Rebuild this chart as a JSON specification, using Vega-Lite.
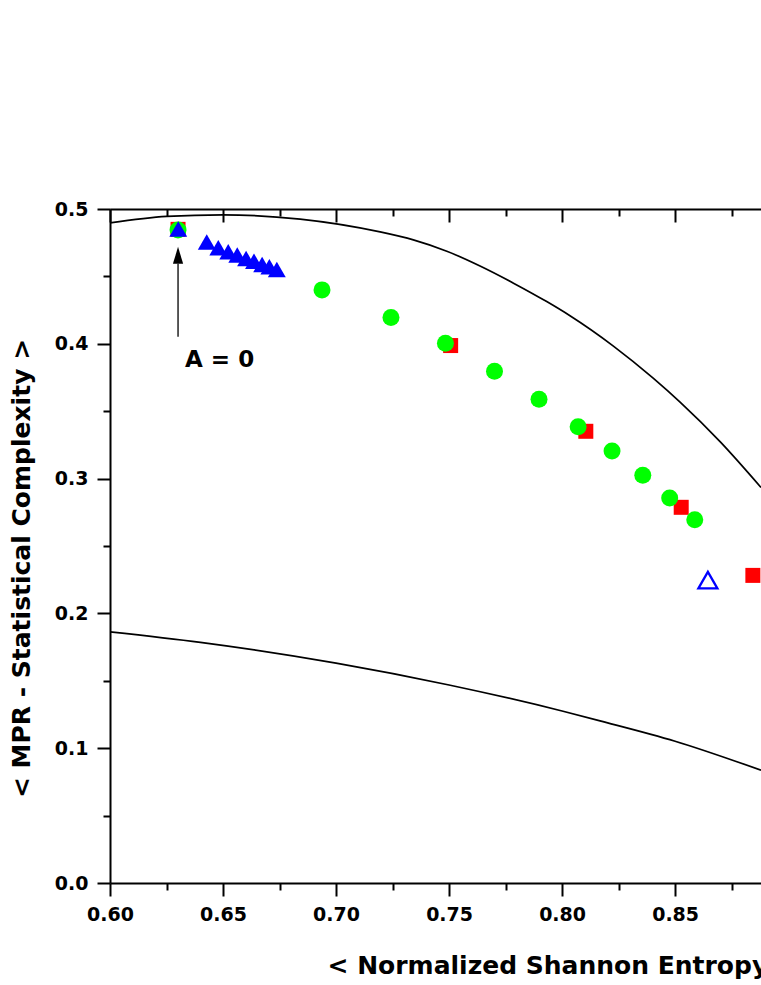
{
  "$schema": "https://vega.github.io/schema/vega-lite/v6.json",
  "autosize": {"type": "none"},
  "padding": {"left": 110, "top": 209, "right": 0, "bottom": 102},
  "width": 651,
  "height": 674,
  "background": "white",
  "config": {
    "view": {"stroke": null},
    "font": "DejaVu Sans",
    "axis": {
      "domainColor": "black", "domainWidth": 2, "tickColor": "black", "tickWidth": 2,
      "grid": false, "labelFont": "DejaVu Sans", "labelFontWeight": "bold", "labelFontSize": 19,
      "labelColor": "black", "titleFont": "DejaVu Sans", "titleFontWeight": "bold",
      "titleFontSize": 25, "titleColor": "black"
    }
  },
  "datasets": {
    "curves": [
      {"curve": "max", "x": 0.6, "y": 0.4897},
      {"curve": "max", "x": 0.6251, "y": 0.4945},
      {"curve": "max", "x": 0.65, "y": 0.4957},
      {"curve": "max", "x": 0.6841, "y": 0.4925},
      {"curve": "max", "x": 0.7195, "y": 0.4830},
      {"curve": "max", "x": 0.7342, "y": 0.4771},
      {"curve": "max", "x": 0.749, "y": 0.4687},
      {"curve": "max", "x": 0.7637, "y": 0.4577},
      {"curve": "max", "x": 0.7785, "y": 0.4450},
      {"curve": "max", "x": 0.7932, "y": 0.4313},
      {"curve": "max", "x": 0.8035, "y": 0.4208},
      {"curve": "max", "x": 0.8227, "y": 0.3983},
      {"curve": "max", "x": 0.8403, "y": 0.3745},
      {"curve": "max", "x": 0.8522, "y": 0.3567},
      {"curve": "max", "x": 0.8700, "y": 0.3272},
      {"curve": "max", "x": 0.888, "y": 0.2934},
      {"curve": "min", "x": 0.6, "y": 0.1863},
      {"curve": "min", "x": 0.64, "y": 0.1785},
      {"curve": "min", "x": 0.7, "y": 0.1631},
      {"curve": "min", "x": 0.75, "y": 0.1469},
      {"curve": "min", "x": 0.8, "y": 0.1276},
      {"curve": "min", "x": 0.8168, "y": 0.1203},
      {"curve": "min", "x": 0.85, "y": 0.1052},
      {"curve": "min", "x": 0.888, "y": 0.0837}
    ],
    "points": [
      {"series": "square", "x": 0.6301, "y": 0.4849},
      {"series": "square", "x": 0.7507, "y": 0.3987},
      {"series": "square", "x": 0.8105, "y": 0.3351},
      {"series": "square", "x": 0.8527, "y": 0.2787},
      {"series": "square", "x": 0.8844, "y": 0.2282},
      {"series": "circle", "x": 0.6301, "y": 0.4845},
      {"series": "circle", "x": 0.6938, "y": 0.4400},
      {"series": "circle", "x": 0.7243, "y": 0.4195},
      {"series": "circle", "x": 0.7484, "y": 0.4004},
      {"series": "circle", "x": 0.7701, "y": 0.3797},
      {"series": "circle", "x": 0.7898, "y": 0.3589},
      {"series": "circle", "x": 0.8071, "y": 0.3385},
      {"series": "circle", "x": 0.8221, "y": 0.3205},
      {"series": "circle", "x": 0.8357, "y": 0.3025},
      {"series": "circle", "x": 0.8476, "y": 0.2856},
      {"series": "circle", "x": 0.8587, "y": 0.2695},
      {"series": "tri", "x": 0.6302, "y": 0.4851},
      {"series": "tri", "x": 0.6428, "y": 0.4756},
      {"series": "tri", "x": 0.6479, "y": 0.4712},
      {"series": "tri", "x": 0.6523, "y": 0.4682},
      {"series": "tri", "x": 0.6563, "y": 0.4658},
      {"series": "tri", "x": 0.6602, "y": 0.4633},
      {"series": "tri", "x": 0.6637, "y": 0.4613},
      {"series": "tri", "x": 0.6673, "y": 0.4588},
      {"series": "tri", "x": 0.6705, "y": 0.4571},
      {"series": "tri", "x": 0.6738, "y": 0.4551},
      {"series": "open", "x": 0.8645, "y": 0.2247}
    ],
    "annot": [
      {"label": "A = 0", "x": 0.6301, "xt": 0.6332, "yt": 0.3831, "ylo": 0.4052, "yhi": 0.4593, "yhead": 0.4656}
    ]
  },
  "layer": [
    {
      "data": {"name": "curves"},
      "mark": {"type": "line", "color": "black", "strokeWidth": 1.7, "clip": true, "interpolate": "monotone"},
      "encoding": {
        "x": {"field": "x", "type": "quantitative",
          "scale": {"domain": [0.6, 0.888], "nice": false, "zero": false},
          "axis": {
            "orient": "bottom", "title": "< Normalized Shannon Entropy >",
            "values": [0.6, 0.625, 0.65, 0.675, 0.7, 0.725, 0.75, 0.775, 0.8, 0.825, 0.85, 0.875],
            "labelExpr": "abs(datum.value*20 - round(datum.value*20)) < 0.01 ? format(datum.value, '.2f') : ''",
            "tickSize": {"condition": {"test": "abs(datum.value*20 - round(datum.value*20)) < 0.01", "value": 13}, "value": 7},
            "labelPadding": 9, "labelFlush": false, "labelOverlap": false,
            "titleX": 217, "titleY": 90, "titleAlign": "left", "titleBaseline": "alphabetic", "titleAnchor": null
          }
        },
        "y": {"field": "y", "type": "quantitative",
          "scale": {"domain": [0, 0.5], "nice": false},
          "axis": {
            "title": "< MPR - Statistical Complexity >",
            "values": [0, 0.05, 0.1, 0.15, 0.2, 0.25, 0.3, 0.35, 0.4, 0.45, 0.5],
            "labelExpr": "abs(datum.value*10 - round(datum.value*10)) < 0.01 ? format(datum.value, '.1f') : ''",
            "tickSize": {"condition": {"test": "abs(datum.value*10 - round(datum.value*10)) < 0.01", "value": 13}, "value": 7},
            "labelPadding": 9, "labelFlush": false, "labelOverlap": false,
            "titleX": -81, "titleY": 359, "titleAngle": -90, "titleAlign": "center", "titleBaseline": "alphabetic", "titleAnchor": null
          }
        },
        "detail": {"field": "curve"}
      }
    },
    {
      "data": {"name": "points"},
      "transform": [{"filter": "datum.series == 'square'"}],
      "mark": {"type": "point", "shape": "square", "filled": true, "color": "#ff0000", "size": 225, "opacity": 1, "clip": true},
      "encoding": {
        "x": {"field": "x", "type": "quantitative", "axis": {
          "orient": "top", "title": null, "labels": false,
          "values": [0.6, 0.625, 0.65, 0.675, 0.7, 0.725, 0.75, 0.775, 0.8, 0.825, 0.85, 0.875],
          "tickSize": {"condition": {"test": "abs(datum.value*20 - round(datum.value*20)) < 0.01", "value": -13}, "value": -7}
        }},
        "y": {"field": "y", "type": "quantitative", "axis": null}
      }
    },
    {
      "data": {"name": "points"},
      "transform": [{"filter": "datum.series == 'circle'"}],
      "mark": {"type": "point", "shape": "circle", "filled": true, "color": "#00ff00", "size": 289, "opacity": 1, "clip": true},
      "encoding": {
        "x": {"field": "x", "type": "quantitative", "axis": null},
        "y": {"field": "y", "type": "quantitative", "axis": null}
      }
    },
    {
      "data": {"name": "points"},
      "transform": [{"filter": "datum.series == 'tri'"}],
      "mark": {"type": "point", "shape": "triangle-up", "filled": true, "color": "#0000ff", "size": 320, "opacity": 1, "clip": true},
      "encoding": {
        "x": {"field": "x", "type": "quantitative", "axis": null},
        "y": {"field": "y", "type": "quantitative", "axis": null}
      }
    },
    {
      "data": {"name": "points"},
      "transform": [{"filter": "datum.series == 'open'"}],
      "mark": {"type": "point", "shape": "triangle-up", "filled": false, "color": "#0000ff", "strokeWidth": 2.3, "size": 361, "opacity": 1, "clip": true},
      "encoding": {
        "x": {"field": "x", "type": "quantitative", "axis": null},
        "y": {"field": "y", "type": "quantitative", "axis": null}
      }
    },
    {
      "data": {"name": "annot"},
      "mark": {"type": "rule", "color": "black", "strokeWidth": 1.3},
      "encoding": {
        "x": {"field": "x", "type": "quantitative", "axis": null},
        "y": {"field": "ylo", "type": "quantitative", "axis": null},
        "y2": {"field": "yhi"}
      }
    },
    {
      "data": {"name": "annot"},
      "mark": {"type": "point", "shape": "M0,-1L-0.6,1L0.6,1Z", "filled": true, "color": "black", "size": 289, "opacity": 1},
      "encoding": {
        "x": {"field": "x", "type": "quantitative", "axis": null},
        "y": {"field": "yhead", "type": "quantitative", "axis": null}
      }
    },
    {
      "data": {"name": "annot"},
      "mark": {"type": "text", "align": "left", "baseline": "alphabetic", "font": "DejaVu Sans", "fontWeight": "bold", "fontSize": 23, "color": "black"},
      "encoding": {
        "x": {"field": "xt", "type": "quantitative", "axis": null},
        "y": {"field": "yt", "type": "quantitative", "axis": null},
        "text": {"field": "label"}
      }
    }
  ],
  "resolve": {"axis": {"x": "independent", "y": "independent"}}
}
